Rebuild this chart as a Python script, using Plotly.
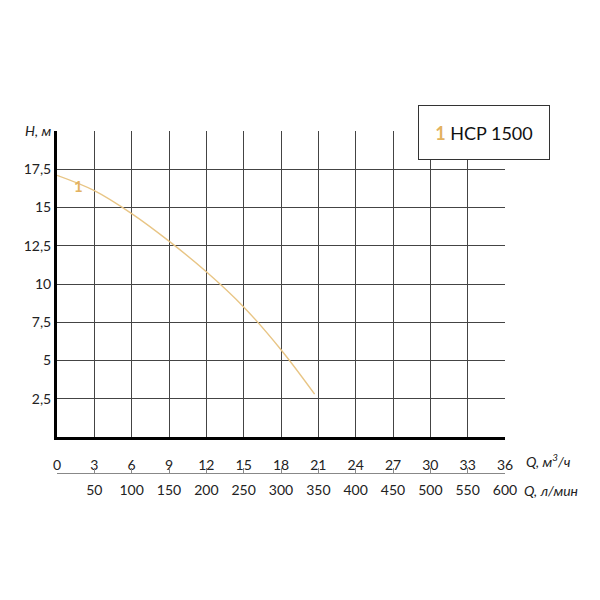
import plotly.graph_objects as go

# pump curve
q_m3h = [0, 3, 6, 9, 12, 15, 18, 20.7]
h_m = [17.1, 16.1, 14.6, 12.8, 10.8, 8.5, 5.7, 2.8]

x_ticks = [0, 3, 6, 9, 12, 15, 18, 21, 24, 27, 30, 33, 36]
lmin_ticks = [3, 6, 9, 12, 15, 18, 21, 24, 27, 30, 33, 36]
lmin_labels = ['50', '100', '150', '200', '250', '300', '350', '400', '450', '500', '550', '600']
y_ticks = [2.5, 5, 7.5, 10, 12.5, 15, 17.5, 20]
y_labels = ['2,5', '5', '7,5', '10', '12,5', '15', '17,5', '<i>H, м</i>']

curve_color = '#e8c585'
label_color = '#e3b260'
font = 'Lato, Open Sans, sans-serif'

# page body has an 8px margin, so the plot box is placed 8px up/left
L, T, W, H = 49, 123, 448, 342

fig = go.Figure()
fig.add_trace(go.Scatter(x=q_m3h, y=h_m, mode='lines', line=dict(color=curve_color, width=1.4, shape='spline'),
                         showlegend=False, hoverinfo='skip'))
# invisible trace so xaxis2 gets drawn
fig.add_trace(go.Scatter(x=[0, 36], y=[0, 0], xaxis='x2', mode='lines', line=dict(width=0),
                         showlegend=False, hoverinfo='skip'))

fig.add_annotation(x=1.7, y=16.4, xref='x', yref='y', text='<b>1</b>', showarrow=False,
                   font=dict(color=label_color, size=15, family=font))

# legend box
fig.add_annotation(x=(484 - 57) / W, y=(473 - 132.5) / H, xref='paper', yref='paper', showarrow=False,
                   text="<b><span style='color:%s'>1</span></b> HCP 1500" % label_color,
                   font=dict(size=18, color='#111', family=font),
                   bgcolor='white', bordercolor='#333', borderwidth=1, width=128, height=51,
                   xanchor='center', yanchor='middle')
# axis unit labels
fig.add_annotation(x=(524 - 57) / W, y=(473 - 460) / H, xref='paper', yref='paper', showarrow=False,
                   text='<i>Q, м<sup>3</sup>/ч</i>', xanchor='left', yanchor='middle',
                   font=dict(size=14, color='#222', family=font))
fig.add_annotation(x=(522 - 57) / W, y=(473 - 490) / H, xref='paper', yref='paper', showarrow=False,
                   text='<i>Q, л/мин</i>', xanchor='left', yanchor='middle',
                   font=dict(size=14, color='#222', family=font))

fig.update_layout(
    width=600, height=600,
    margin=dict(l=L, r=600 - L - W, t=T, b=600 - T - H),
    paper_bgcolor='white', plot_bgcolor='white',
    font=dict(family=font, size=14, color='#222'),
    xaxis=dict(range=[0, 36], tickvals=x_ticks, ticktext=[str(v) for v in x_ticks],
               showgrid=True, gridcolor='#444', gridwidth=1, zeroline=False,
               showline=True, linecolor='black', linewidth=3, ticks='', ticklabelstandoff=13,
               anchor='y', fixedrange=True),
    xaxis2=dict(range=[0, 36], overlaying='x', anchor='free', position=0, side='bottom',
                tickvals=lmin_ticks, ticktext=lmin_labels, showgrid=False, zeroline=False,
                showline=True, linecolor='#888', linewidth=1, ticks='inside', ticklen=5,
                tickcolor='#888', ticklabelstandoff=4,
                minor=dict(tickvals=[0], ticks='inside', ticklen=5, tickcolor='#888', showgrid=False)),
    yaxis=dict(range=[0, 20], domain=[36 / H, 1], tickvals=y_ticks, ticktext=y_labels,
               showgrid=True, gridcolor='#444', gridwidth=1, zeroline=False,
               showline=True, linecolor='black', linewidth=3, ticks='', fixedrange=True),
)

fig.write_html("out.html")
